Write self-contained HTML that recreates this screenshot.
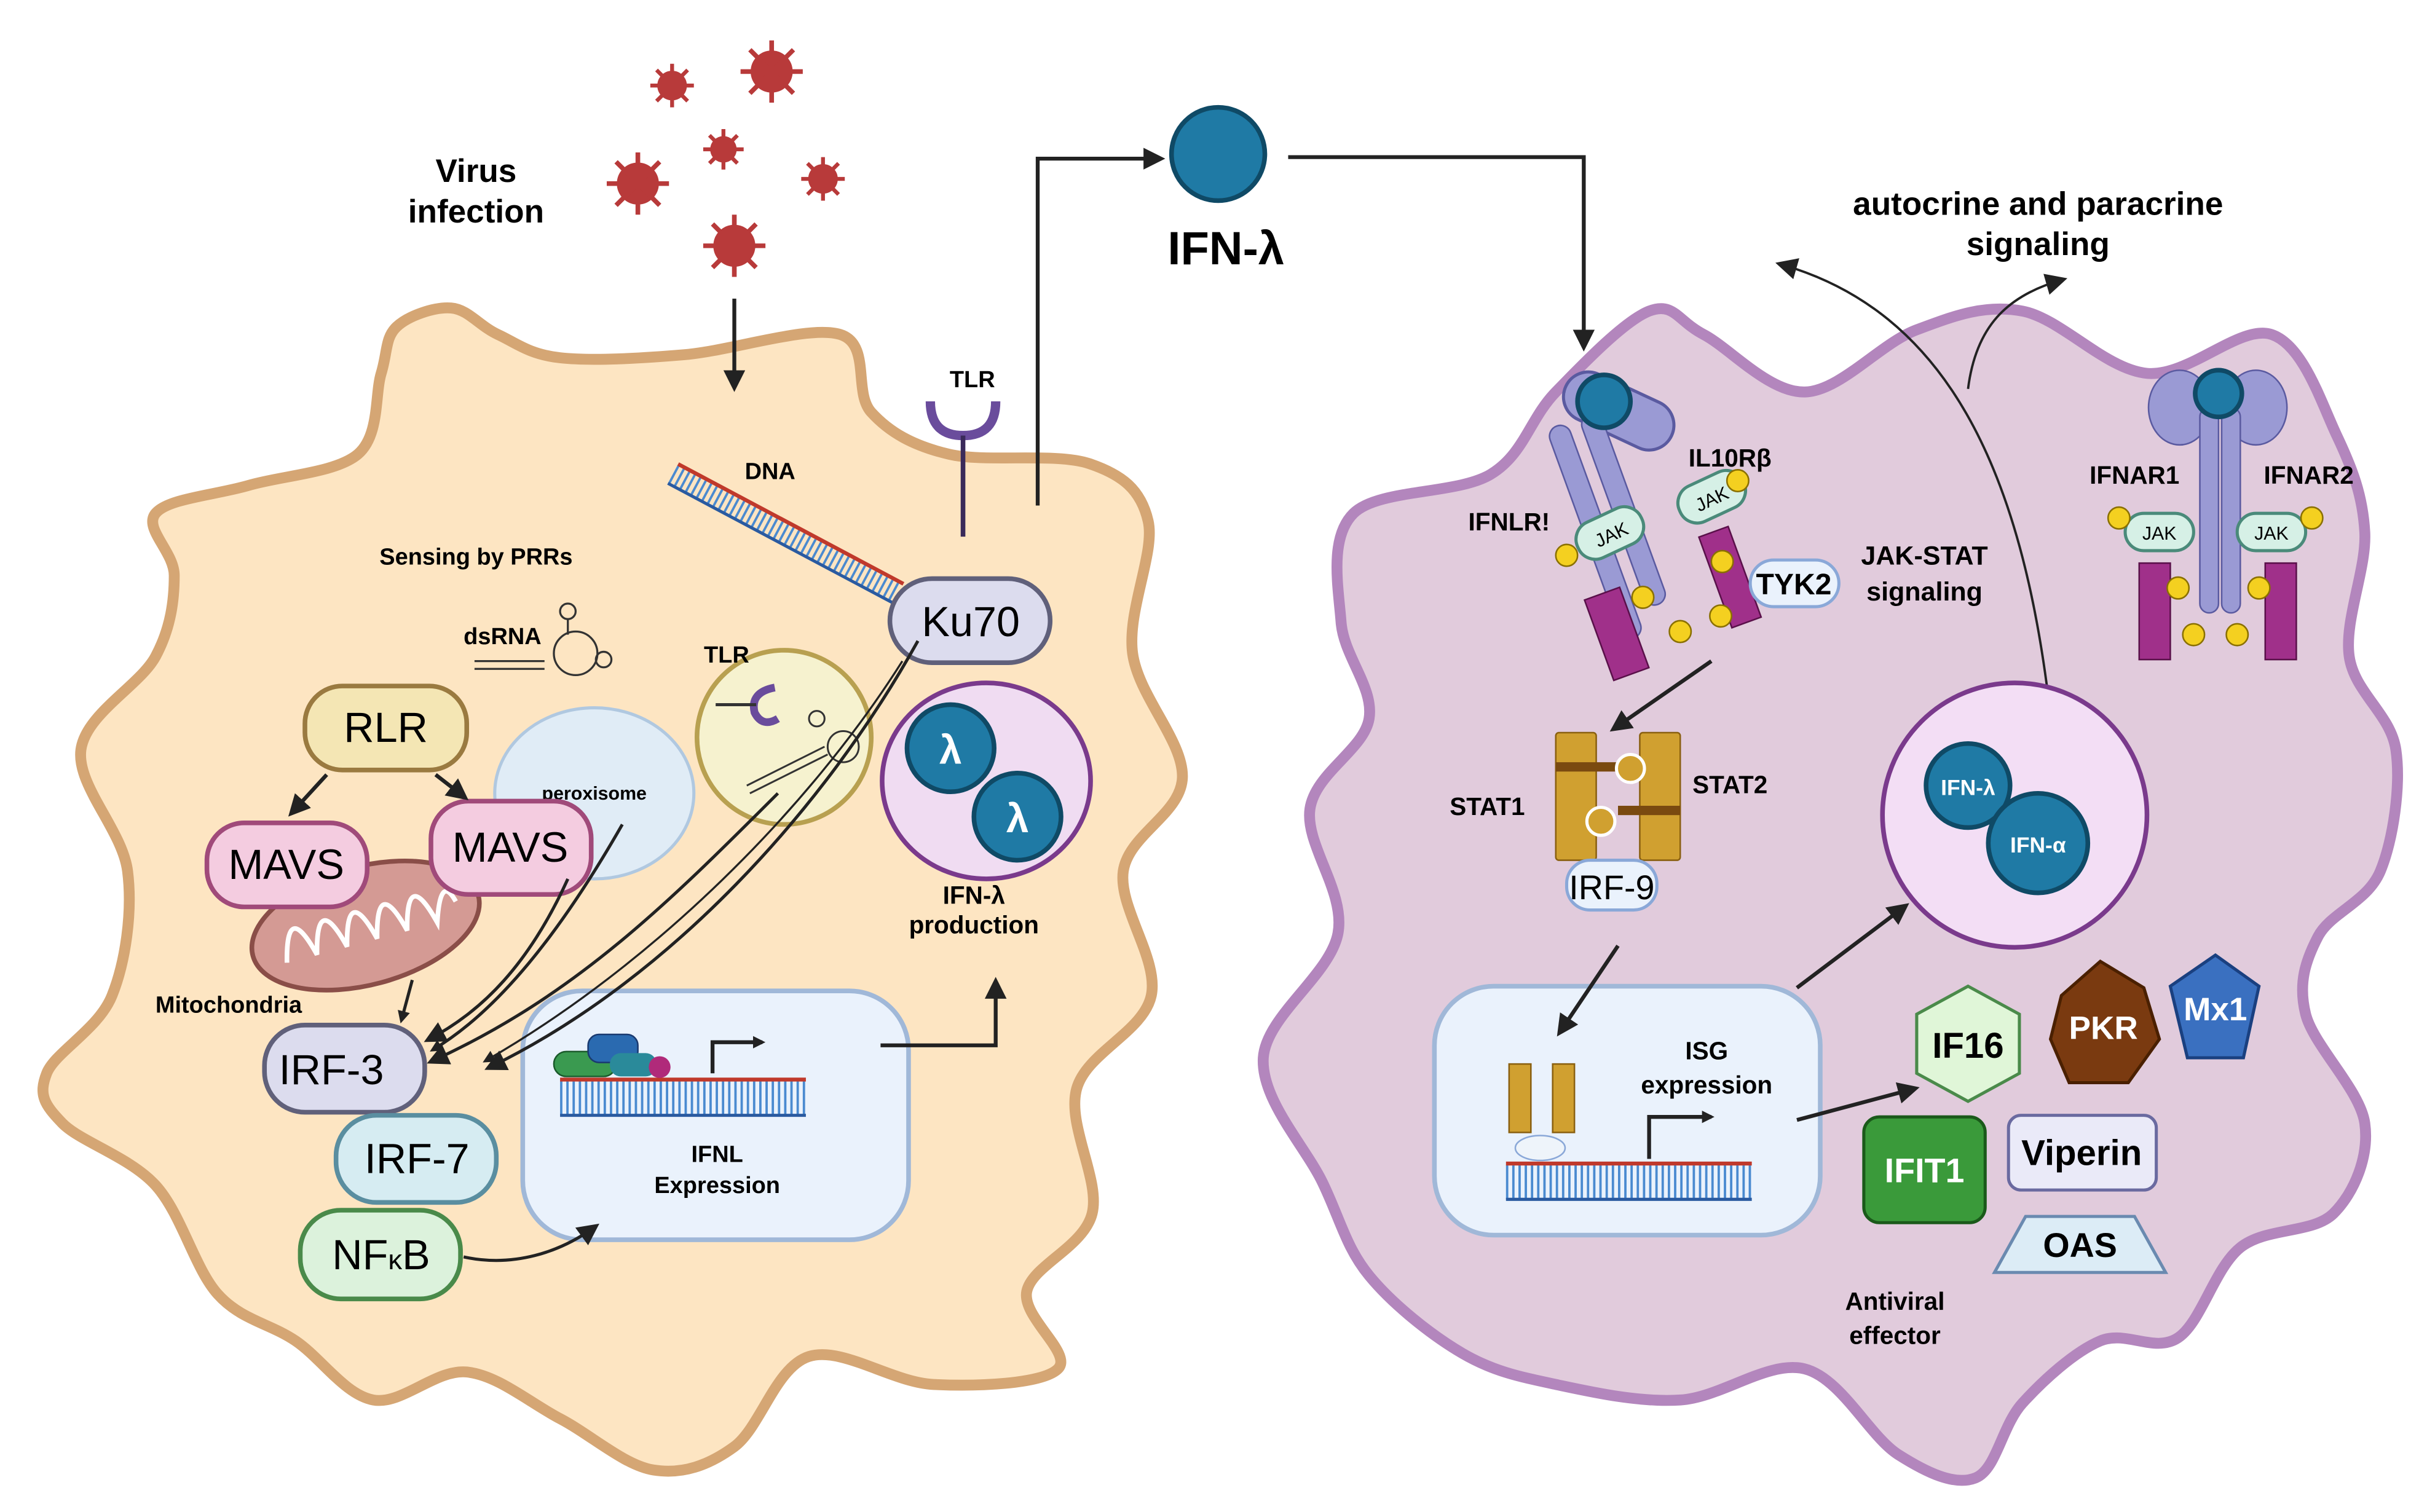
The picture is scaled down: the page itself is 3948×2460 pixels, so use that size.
<!DOCTYPE html>
<html><head><meta charset="utf-8"><style>
html,body{margin:0;padding:0;background:#fff}
svg{display:block}
text{font-family:"Liberation Sans",sans-serif}
.b{font-weight:bold}
</style></head><body>
<svg id="s" width="3948" height="2460" viewBox="0 0 1560 972" preserveAspectRatio="none" xmlns="http://www.w3.org/2000/svg">
<defs>
<marker id="ar" markerWidth="8" markerHeight="8" refX="6" refY="4" orient="auto" markerUnits="userSpaceOnUse"><path d="M0,0 L8,4 L0,8 z" fill="#222"/></marker>
<marker id="ar2" markerWidth="14" markerHeight="14" refX="10" refY="7" orient="auto" markerUnits="userSpaceOnUse"><path d="M0,0 L14,7 L0,14 z" fill="#222"/></marker>
</defs>
<path id="left" fill="#fde5c2" stroke="#d5a674" stroke-width="7" d=""/>
<path id="right" fill="#e1cbdc" stroke="#b386bd" stroke-width="7" d=""/>

<!-- viruses -->
<g fill="#b83a3a" stroke="#b83a3a">
<g transform="translate(432,55)"><circle r="9"/><path d="M-14,0H14M0,-14V14M-10,-10L10,10M-10,10L10,-10" stroke-width="2.5"/></g>
<g transform="translate(496,46)"><circle r="13"/><path d="M-20,0H20M0,-20V20M-14,-14L14,14M-14,14L14,-14" stroke-width="3"/></g>
<g transform="translate(465,96)"><circle r="8"/><path d="M-13,0H13M0,-13V13M-9,-9L9,9M-9,9L9,-9" stroke-width="2.5"/></g>
<g transform="translate(410,118)"><circle r="13"/><path d="M-20,0H20M0,-20V20M-14,-14L14,14M-14,14L14,-14" stroke-width="3"/></g>
<g transform="translate(529,115)"><circle r="9"/><path d="M-14,0H14M0,-14V14M-10,-10L10,10M-10,10L10,-10" stroke-width="2.5"/></g>
<g transform="translate(472,158)"><circle r="13"/><path d="M-20,0H20M0,-20V20M-14,-14L14,14M-14,14L14,-14" stroke-width="3"/></g>
</g>
<text x="306" y="117" font-size="21" class="b" text-anchor="middle">Virus</text>
<text x="306" y="143" font-size="21" class="b" text-anchor="middle">infection</text>
<line x1="472" y1="192" x2="472" y2="248" stroke="#222" stroke-width="2.5" marker-end="url(#ar2)"/>

<!-- IFN-lambda top -->
<circle cx="783" cy="99" r="30" fill="#1f7aa5" stroke="#0f4a66" stroke-width="3"/>
<text x="788" y="170" font-size="30" class="b" text-anchor="middle">IFN-λ</text>
<polyline points="667,325 667,102 745,102" fill="none" stroke="#222" stroke-width="2.5" marker-end="url(#ar2)"/>
<polyline points="828,101 1018,101 1018,222" fill="none" stroke="#222" stroke-width="2.5" marker-end="url(#ar2)"/>

<text x="1310" y="138" font-size="21" class="b" text-anchor="middle">autocrine and paracrine</text>
<text x="1310" y="164" font-size="21" class="b" text-anchor="middle">signaling</text>
<path d="M1318,460 C1300,300 1250,200 1145,170" fill="none" stroke="#222" stroke-width="1.5" marker-end="url(#ar2)"/>
<path d="M1265,250 C1270,210 1290,190 1325,180" fill="none" stroke="#222" stroke-width="1.5" marker-end="url(#ar2)"/>

<!-- DNA -->
<g transform="translate(505,343) rotate(28)">
<path d="M-82,0H82" stroke="#4a8ad0" stroke-width="14" stroke-dasharray="1.5 2.5"/>
<line x1="-82" y1="-7" x2="82" y2="-7" stroke="#c0392b" stroke-width="2.5"/>
<line x1="-82" y1="7" x2="82" y2="7" stroke="#2a5aa0" stroke-width="2"/>
</g>
<text x="495" y="308" font-size="15" class="b" text-anchor="middle">DNA</text>

<!-- TLR top -->
<text x="625" y="249" font-size="15" class="b" text-anchor="middle">TLR</text>
<path d="M598,258 Q598,280 619,280 Q640,280 640,258" fill="none" stroke="#6a4c9c" stroke-width="6"/>
<line x1="619" y1="280" x2="619" y2="345" stroke="#3a2a5a" stroke-width="3"/>

<text x="306" y="363" font-size="15" class="b" text-anchor="middle">Sensing by PRRs</text>
<text x="323" y="414" font-size="15" class="b" text-anchor="middle">dsRNA</text>
<g stroke="#333" fill="none" stroke-width="1.3"><path d="M305,425 H350 M305,430 H350"/><circle cx="370" cy="420" r="14"/><circle cx="365" cy="393" r="5"/><path d="M365,398 V408"/><circle cx="388" cy="424" r="5"/></g>

<!-- Ku70 -->
<rect x="572" y="372" width="103" height="54" rx="27" fill="#dcdcee" stroke="#60607a" stroke-width="3"/>
<text x="624" y="409" font-size="27" text-anchor="middle">Ku70</text>

<!-- TLR endosome -->
<circle cx="504" cy="474" r="56" fill="#f6f2cf" stroke="#b8a050" stroke-width="3"/>
<text x="467" y="426" font-size="15" class="b" text-anchor="middle">TLR</text>
<path d="M498,442 Q482,445 485,458 Q490,468 500,462" fill="none" stroke="#6a4c9c" stroke-width="5"/>
<line x1="460" y1="453" x2="486" y2="453" stroke="#333" stroke-width="2"/>
<g stroke="#333" fill="none" stroke-width="1.2"><path d="M480,505 L530,480 M482,510 L532,485"/><circle cx="542" cy="480" r="10"/><circle cx="525" cy="462" r="5"/></g>

<!-- IFN-λ production vesicle -->
<ellipse cx="634" cy="502" rx="67" ry="63" fill="#f0dcf2" stroke="#7a3a8c" stroke-width="3"/>
<circle cx="611" cy="481" r="28" fill="#1f7aa5" stroke="#0f4a66" stroke-width="3"/>
<circle cx="654" cy="525" r="28" fill="#1f7aa5" stroke="#0f4a66" stroke-width="3"/>
<text x="611" y="491" font-size="26" fill="#fff" class="b" text-anchor="middle">λ</text>
<text x="654" y="535" font-size="26" fill="#fff" class="b" text-anchor="middle">λ</text>
<text x="626" y="581" font-size="16" class="b" text-anchor="middle">IFN-λ</text>
<text x="626" y="600" font-size="16" class="b" text-anchor="middle">production</text>

<!-- peroxisome -->
<ellipse cx="382" cy="510" rx="64" ry="55" fill="#e0ecf6" stroke="#b0c8e0" stroke-width="2"/>
<text x="382" y="514" font-size="12" class="b" text-anchor="middle">peroxisome</text>

<!-- mitochondria -->
<g transform="translate(235,595) rotate(-15)">
<ellipse rx="75" ry="38" fill="#d49a94" stroke="#8a4e48" stroke-width="3"/>
<path d="M-55,10 Q-45,-30 -35,10 Q-25,-30 -15,10 Q-5,-30 5,10 Q15,-30 25,10 Q35,-30 45,10 Q55,-20 60,0" fill="none" stroke="#fff" stroke-width="3"/>
</g>
<text x="147" y="651" font-size="15" class="b" text-anchor="middle">Mitochondria</text>

<!-- RLR / MAVS -->
<rect x="196" y="441" width="104" height="54" rx="24" fill="#f4e6b4" stroke="#9a7a40" stroke-width="3"/>
<text x="248" y="477" font-size="27" text-anchor="middle">RLR</text>
<rect x="133" y="529" width="103" height="54" rx="24" fill="#f4cce0" stroke="#a04a7a" stroke-width="3"/>
<text x="184" y="565" font-size="27" text-anchor="middle">MAVS</text>
<rect x="277" y="515" width="103" height="60" rx="24" fill="#f4cce0" stroke="#a04a7a" stroke-width="3"/>
<text x="328" y="554" font-size="27" text-anchor="middle">MAVS</text>
<line x1="210" y1="498" x2="188" y2="522" stroke="#222" stroke-width="2.5" marker-end="url(#ar2)"/>
<line x1="280" y1="498" x2="298" y2="512" stroke="#222" stroke-width="2.5" marker-end="url(#ar2)"/>

<!-- IRF etc -->
<rect x="170" y="659" width="103" height="56" rx="26" fill="#dcdcee" stroke="#60607a" stroke-width="3"/>
<text x="213" y="697" font-size="27" text-anchor="middle">IRF-3</text>
<rect x="216" y="717" width="103" height="56" rx="26" fill="#d6ecf2" stroke="#5a8ea0" stroke-width="3"/>
<text x="268" y="754" font-size="27" text-anchor="middle">IRF-7</text>
<rect x="193" y="778" width="103" height="57" rx="26" fill="#dcf2dc" stroke="#4a8a4a" stroke-width="3"/>
<text x="245" y="816" font-size="27" text-anchor="middle">NF<tspan font-size="18">κ</tspan>B</text>

<!-- IFNL expression nucleus -->
<rect x="336" y="637" width="248" height="160" rx="38" fill="#eaf2fc" stroke="#a0b8d8" stroke-width="3"/>
<path d="M360,706 H518" stroke="#4a8ad0" stroke-width="22" stroke-dasharray="1.5 2.5"/>
<line x1="360" y1="694" x2="518" y2="694" stroke="#c0392b" stroke-width="2.5"/>
<line x1="360" y1="717" x2="518" y2="717" stroke="#2a5aa0" stroke-width="2"/>
<rect x="356" y="676" width="40" height="16" rx="8" fill="#3a9a50" stroke="#1a5a2a"/>
<rect x="378" y="665" width="32" height="18" rx="7" fill="#2a6ab0" stroke="#1a3a70"/>
<rect x="392" y="677" width="30" height="15" rx="7" fill="#2a8a9a"/>
<circle cx="424" cy="686" r="7" fill="#b02a7a"/>
<polyline points="458,690 458,670 490,670" fill="none" stroke="#222" stroke-width="2.5" marker-end="url(#ar)"/>
<text x="461" y="747" font-size="15" class="b" text-anchor="middle">IFNL</text>
<text x="461" y="767" font-size="15" class="b" text-anchor="middle">Expression</text>
<polyline points="566,672 640,672 640,632" fill="none" stroke="#222" stroke-width="2.5" marker-end="url(#ar2)"/>

<g stroke="#222" stroke-width="2" fill="none">
<line x1="265" y1="630" x2="258" y2="656" marker-end="url(#ar)"/>
<path d="M365,565 C340,620 310,650 276,668" marker-end="url(#ar2)"/>
<path d="M400,530 C360,600 320,650 278,675" marker-end="url(#ar)"/>
<path d="M500,510 C430,580 370,640 278,682" marker-end="url(#ar2)"/>
<path d="M580,425 C520,520 420,620 312,682" stroke-width="1.3" marker-end="url(#ar)"/>
<path d="M590,412 C530,520 430,630 315,686" stroke-width="2" marker-end="url(#ar2)"/>
<path d="M298,808 C330,815 360,805 382,789" marker-end="url(#ar2)"/>
</g>

<!-- IFNLR receptor -->
<g>
<rect x="1003" y="248" width="75" height="32" rx="16" fill="#9a9ad4" stroke="#5a5aa0" stroke-width="2" transform="rotate(25 1040 264)"/>
<g transform="rotate(-20 1040 350)">
<rect x="1022" y="265" width="14" height="145" rx="7" fill="#9a9ad4" stroke="#5a5aa0"/>
<rect x="1044" y="265" width="14" height="130" rx="7" fill="#9a9ad4" stroke="#5a5aa0"/>
</g>
<circle cx="1031" cy="258" r="17" fill="#1f7aa5" stroke="#0f4a66" stroke-width="3"/>
<rect x="1012" y="330" width="45" height="25" rx="12" fill="#d6f0e6" stroke="#4a8a7a" stroke-width="2" transform="rotate(-25 1035 342)"/>
<text x="1035" y="348" font-size="12" text-anchor="middle" transform="rotate(-25 1035 342)">JAK</text>
<circle cx="1007" cy="357" r="7" fill="#f4d020" stroke="#8a7000"/>
<rect x="1078" y="307" width="45" height="25" rx="12" fill="#d6f0e6" stroke="#4a8a7a" stroke-width="2" transform="rotate(-25 1100 320)"/>
<text x="1100" y="325" font-size="12" text-anchor="middle" transform="rotate(-25 1100 320)">JAK</text>
<circle cx="1117" cy="309" r="7" fill="#f4d020" stroke="#8a7000"/>
<rect x="1027" y="380" width="24" height="55" fill="#a0308a" stroke="#5a104a" transform="rotate(-20 1039 407)"/>
<rect x="1102" y="340" width="20" height="62" fill="#a0308a" stroke="#5a104a" transform="rotate(-20 1112 371)"/>
<circle cx="1056" cy="384" r="7" fill="#f4d020" stroke="#8a7000"/>
<circle cx="1080" cy="406" r="7" fill="#f4d020" stroke="#8a7000"/>
<circle cx="1107" cy="361" r="7" fill="#f4d020" stroke="#8a7000"/>
<circle cx="1106" cy="396" r="7" fill="#f4d020" stroke="#8a7000"/>
<rect x="1125" y="360" width="57" height="30" rx="15" fill="#eaf2fc" stroke="#8aa8d8" stroke-width="2"/>
<text x="1153" y="382" font-size="19" class="b" text-anchor="middle">TYK2</text>
</g>
<text x="1112" y="300" font-size="16" class="b" text-anchor="middle">IL10Rβ</text>
<text x="970" y="341" font-size="16" class="b" text-anchor="middle">IFNLR!</text>
<text x="1237" y="363" font-size="17" class="b" text-anchor="middle">JAK-STAT</text>
<text x="1237" y="386" font-size="17" class="b" text-anchor="middle">signaling</text>

<!-- IFNAR -->
<g>
<ellipse cx="1401" cy="262" rx="20" ry="24" fill="#9a9ad4" stroke="#5a5aa0"/>
<ellipse cx="1450" cy="262" rx="20" ry="24" fill="#9a9ad4" stroke="#5a5aa0"/>
<rect x="1414" y="262" width="12" height="132" rx="6" fill="#9a9ad4" stroke="#5a5aa0"/>
<rect x="1428" y="262" width="12" height="132" rx="6" fill="#9a9ad4" stroke="#5a5aa0"/>
<circle cx="1426" cy="253" r="15" fill="#1f7aa5" stroke="#0f4a66" stroke-width="3"/>
<rect x="1366" y="330" width="44" height="24" rx="12" fill="#d6f0e6" stroke="#4a8a7a" stroke-width="2"/>
<text x="1388" y="347" font-size="12" text-anchor="middle">JAK</text>
<rect x="1438" y="330" width="44" height="24" rx="12" fill="#d6f0e6" stroke="#4a8a7a" stroke-width="2"/>
<text x="1460" y="347" font-size="12" text-anchor="middle">JAK</text>
<circle cx="1362" cy="333" r="7" fill="#f4d020" stroke="#8a7000"/>
<circle cx="1486" cy="333" r="7" fill="#f4d020" stroke="#8a7000"/>
<rect x="1375" y="362" width="20" height="62" fill="#a0308a" stroke="#5a104a"/>
<rect x="1456" y="362" width="20" height="62" fill="#a0308a" stroke="#5a104a"/>
<circle cx="1400" cy="378" r="7" fill="#f4d020" stroke="#8a7000"/>
<circle cx="1452" cy="378" r="7" fill="#f4d020" stroke="#8a7000"/>
<circle cx="1410" cy="408" r="7" fill="#f4d020" stroke="#8a7000"/>
<circle cx="1438" cy="408" r="7" fill="#f4d020" stroke="#8a7000"/>
</g>
<text x="1372" y="311" font-size="16" class="b" text-anchor="middle">IFNAR1</text>
<text x="1484" y="311" font-size="16" class="b" text-anchor="middle">IFNAR2</text>

<line x1="1100" y1="425" x2="1038" y2="468" stroke="#222" stroke-width="2.5" marker-end="url(#ar2)"/>

<!-- STAT -->
<rect x="1000" y="471" width="26" height="82" rx="2" fill="#d0a030" stroke="#8a6010"/>
<rect x="1054" y="471" width="26" height="82" rx="2" fill="#d0a030" stroke="#8a6010"/>
<rect x="1000" y="490" width="40" height="6" fill="#7a4a10"/>
<rect x="1040" y="518" width="40" height="6" fill="#7a4a10"/>
<circle cx="1048" cy="494" r="9" fill="#d0a030" stroke="#fff" stroke-width="2"/>
<circle cx="1029" cy="528" r="9" fill="#d0a030" stroke="#fff" stroke-width="2"/>
<text x="956" y="524" font-size="16" class="b" text-anchor="middle">STAT1</text>
<text x="1112" y="510" font-size="16" class="b" text-anchor="middle">STAT2</text>
<rect x="1007" y="553" width="58" height="32" rx="15" fill="#eaf2fc" stroke="#8aa8d8" stroke-width="2"/>
<text x="1036" y="578" font-size="22" text-anchor="middle">IRF-9</text>

<!-- vesicle right -->
<circle cx="1295" cy="524" r="85" fill="#f3def5" stroke="#7a3a8c" stroke-width="3"/>
<circle cx="1265" cy="505" r="27" fill="#1f7aa5" stroke="#0f4a66" stroke-width="3"/>
<circle cx="1310" cy="542" r="32" fill="#1f7aa5" stroke="#0f4a66" stroke-width="3"/>
<text x="1265" y="511" font-size="14" fill="#fff" class="b" text-anchor="middle">IFN-λ</text>
<text x="1310" y="548" font-size="14" fill="#fff" class="b" text-anchor="middle">IFN-α</text>
<line x1="1155" y1="635" x2="1224" y2="583" stroke="#222" stroke-width="2.5" marker-end="url(#ar2)"/>

<!-- ISG nucleus -->
<rect x="922" y="634" width="248" height="160" rx="38" fill="#eaf2fc" stroke="#a0b8d8" stroke-width="3"/>
<path d="M968,760 H1126" stroke="#4a8ad0" stroke-width="22" stroke-dasharray="1.5 2.5"/>
<line x1="968" y1="748" x2="1126" y2="748" stroke="#c0392b" stroke-width="2.5"/>
<line x1="968" y1="771" x2="1126" y2="771" stroke="#2a5aa0" stroke-width="2"/>
<rect x="970" y="684" width="14" height="44" fill="#d0a030" stroke="#8a6010"/>
<rect x="998" y="684" width="14" height="44" fill="#d0a030" stroke="#8a6010"/>
<ellipse cx="990" cy="738" rx="16" ry="8" fill="#eef4fa" stroke="#8aa8d8"/>
<polyline points="1060,745 1060,718 1100,718" fill="none" stroke="#222" stroke-width="2.5" marker-end="url(#ar)"/>
<text x="1097" y="681" font-size="16" class="b" text-anchor="middle">ISG</text>
<text x="1097" y="703" font-size="16" class="b" text-anchor="middle">expression</text>
<line x1="1155" y1="720" x2="1230" y2="700" stroke="#222" stroke-width="2.5" marker-end="url(#ar2)"/>
<line x1="1040" y1="608" x2="1003" y2="663" stroke="#222" stroke-width="2.5" marker-end="url(#ar2)"/>

<!-- effectors -->
<polygon points="1265,634 1298,652 1298,690 1265,708 1232,690 1232,652" fill="#e0f6d8" stroke="#4a8a4a" stroke-width="2"/>
<text x="1265" y="680" font-size="23" class="b" text-anchor="middle">IF16</text>
<path d="M1325,640 L1350,618 L1378,635 L1388,668 L1368,696 L1330,696 L1318,668 Z" fill="#7a3a10" stroke="#4a2000" stroke-width="2"/>
<text x="1352" y="668" font-size="21" class="b" fill="#fff" text-anchor="middle">PKR</text>
<polygon points="1424,614 1452,634 1442,680 1406,680 1395,634" fill="#3a70c0" stroke="#1a4080" stroke-width="2"/>
<text x="1424" y="656" font-size="21" class="b" fill="#fff" text-anchor="middle">Mx1</text>
<rect x="1198" y="718" width="78" height="68" rx="10" fill="#3a9a3a" stroke="#1a5a1a" stroke-width="2"/>
<text x="1237" y="760" font-size="22" class="b" fill="#fff" text-anchor="middle">IFIT1</text>
<rect x="1291" y="717" width="95" height="48" rx="8" fill="#eaeaf8" stroke="#6a6aa0" stroke-width="2"/>
<text x="1338" y="749" font-size="23" class="b" text-anchor="middle">Viperin</text>
<polygon points="1302,782 1372,782 1392,818 1282,818" fill="#dcecf6" stroke="#6a8ab0" stroke-width="2"/>
<text x="1337" y="808" font-size="22" class="b" text-anchor="middle">OAS</text>
<text x="1218" y="842" font-size="16" class="b" text-anchor="middle">Antiviral</text>
<text x="1218" y="864" font-size="16" class="b" text-anchor="middle">effector</text>
</svg>
<script>
function smooth(pts){var n=pts.length,d="M"+pts[0][0]+","+pts[0][1];
for(var i=0;i<n;i++){var p0=pts[(i-1+n)%n],p1=pts[i],p2=pts[(i+1)%n],p3=pts[(i+2)%n];
var c1=[p1[0]+(p2[0]-p0[0])/6,p1[1]+(p2[1]-p0[1])/6],c2=[p2[0]-(p3[0]-p1[0])/6,p2[1]-(p3[1]-p1[1])/6];
d+="C"+c1[0]+","+c1[1]+" "+c2[0]+","+c2[1]+" "+p2[0]+","+p2[1];}return d+"Z";}
var L=[[255,210],[290,198],[320,215],[360,230],[440,228],[540,215],[560,265],[610,292],[700,298],[738,335],[728,420],[760,500],[722,560],[740,640],[692,700],[702,780],[660,830],[680,880],[600,890],[520,872],[472,930],[420,945],[360,912],[300,882],[240,900],[190,862],[140,832],[100,762],[40,722],[30,690],[72,640],[82,560],[52,482],[100,422],[112,370],[100,330],[160,312],[230,292],[245,240]];
var R=[[870,330],[958,305],[1000,252],[1060,200],[1095,215],[1160,252],[1232,212],[1300,200],[1380,240],[1460,215],[1502,280],[1520,342],[1510,422],[1540,482],[1530,560],[1490,602],[1482,652],[1520,722],[1500,780],[1440,802],[1400,860],[1350,862],[1300,902],[1270,950],[1220,935],[1160,880],[1080,900],[1000,890],[940,870],[880,820],[850,760],[812,680],[860,600],[842,520],[880,462],[862,400]];
document.getElementById("left").setAttribute("d",smooth(L));
document.getElementById("right").setAttribute("d",smooth(R));
</script>
</body></html>
